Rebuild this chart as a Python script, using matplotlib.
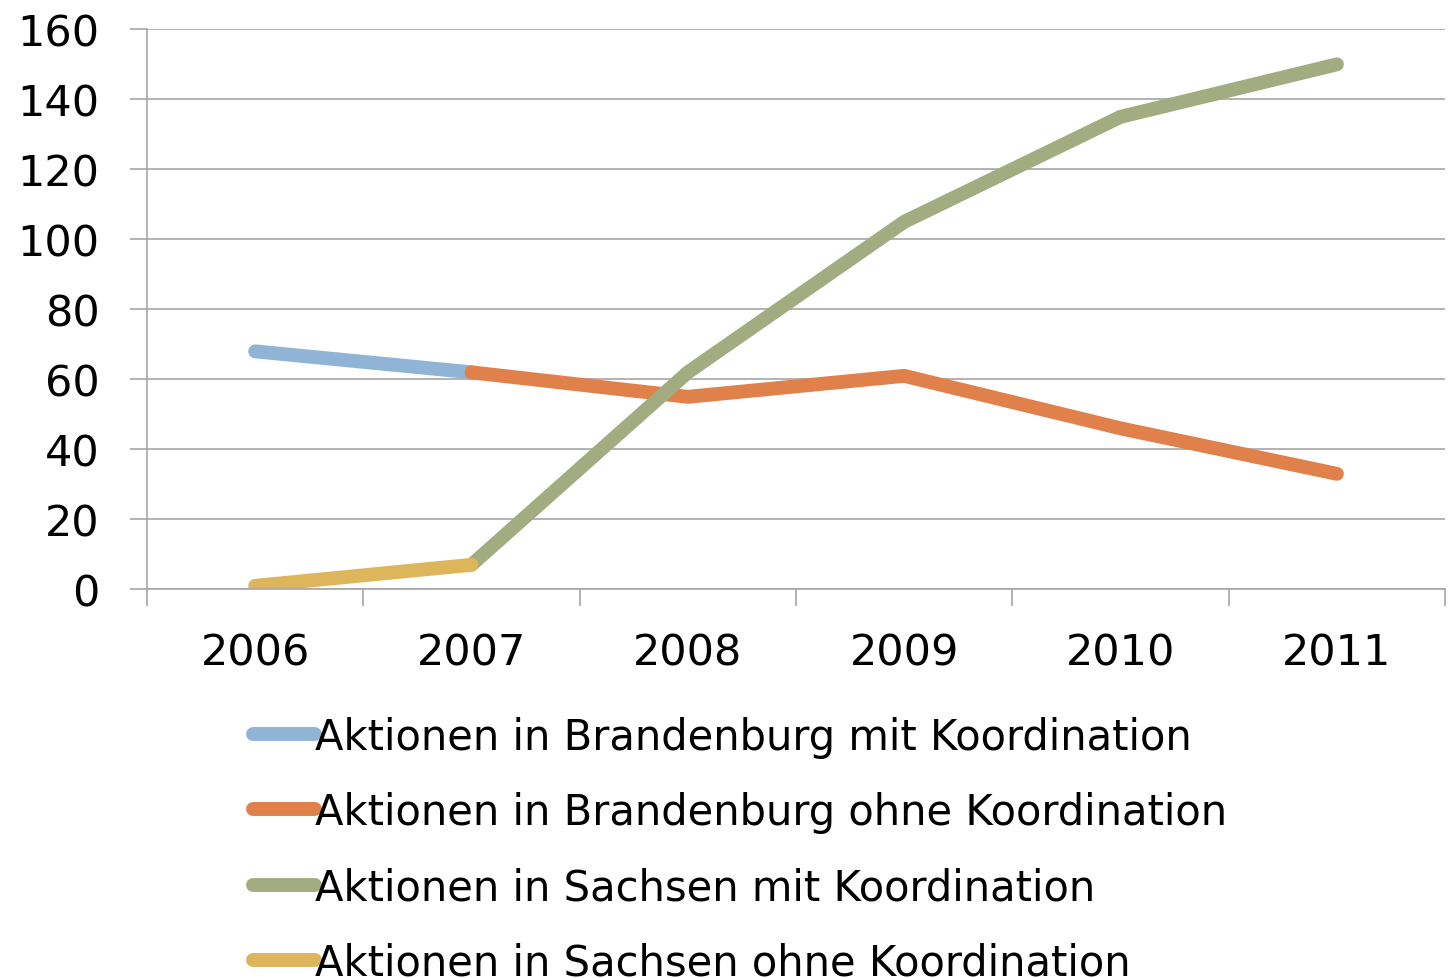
import numpy as np
import matplotlib
matplotlib.use("Agg")
import matplotlib.pyplot as plt

# Daten
jahre = ["2006", "2007", "2008", "2009", "2010", "2011"]
bb_mit = [68, 62, None, None, None, None]
bb_ohne = [None, 62, 55, 61, 46, 33]
sn_mit = [None, 7, 62, 105, 135, 150]
sn_ohne = [1, 7, None, None, None, None]

labels = [
    "Aktionen in Brandenburg mit Koordination",
    "Aktionen in Brandenburg ohne Koordination",
    "Aktionen in Sachsen mit Koordination",
    "Aktionen in Sachsen ohne Koordination",
]
farben = ["#8FB4D6", "#E0804A", "#A3AC80", "#DDB55B"]

plt.rcParams["font.family"] = ["DejaVu Sans"]

fig = plt.figure(figsize=(14.48, 9.79), dpi=100)
ax = fig.add_axes([0.1015, 0.397, 0.8965, 0.572])

x = np.arange(len(jahre))
for serie, farbe, lab in zip([bb_mit, bb_ohne, sn_mit, sn_ohne], farben, labels):
    y = np.array([np.nan if v is None else v for v in serie], dtype=float)
    ax.plot(x, y, color=farbe, lw=10, solid_capstyle="round",
            solid_joinstyle="round", label=lab)

ax.set_xlim(-0.5, len(jahre) - 0.5)
ax.set_ylim(0, 160)
ax.set_yticks(range(0, 161, 20))
ax.set_xticks(x)
ax.set_xticklabels(jahre)
ax.set_xticks(np.arange(-0.5, len(jahre), 1), minor=True)

ax.grid(axis="y", color="#A6A6A6", lw=1.2)
ax.set_axisbelow(True)
for s in ["top", "right"]:
    ax.spines[s].set_visible(False)
ax.spines["left"].set_color("#A6A6A6")
ax.spines["bottom"].set_color("#A6A6A6")
ax.spines["left"].set_linewidth(1.2)
ax.spines["bottom"].set_linewidth(1.2)

ax.tick_params(axis="y", length=12, color="#A6A6A6", width=1.2,
               labelsize=31, pad=22)
ax.tick_params(axis="x", which="major", length=0, labelsize=31, pad=30)
ax.tick_params(axis="x", which="minor", length=12, color="#A6A6A6", width=1.2)

fig.legend(loc="upper left", bbox_to_anchor=(0.1745, 0.268), frameon=False,
           fontsize=30, handlelength=1.5, handletextpad=0.0,
           labelspacing=0.80, borderpad=0, borderaxespad=0)

fig.savefig("out.png", dpi=100)
